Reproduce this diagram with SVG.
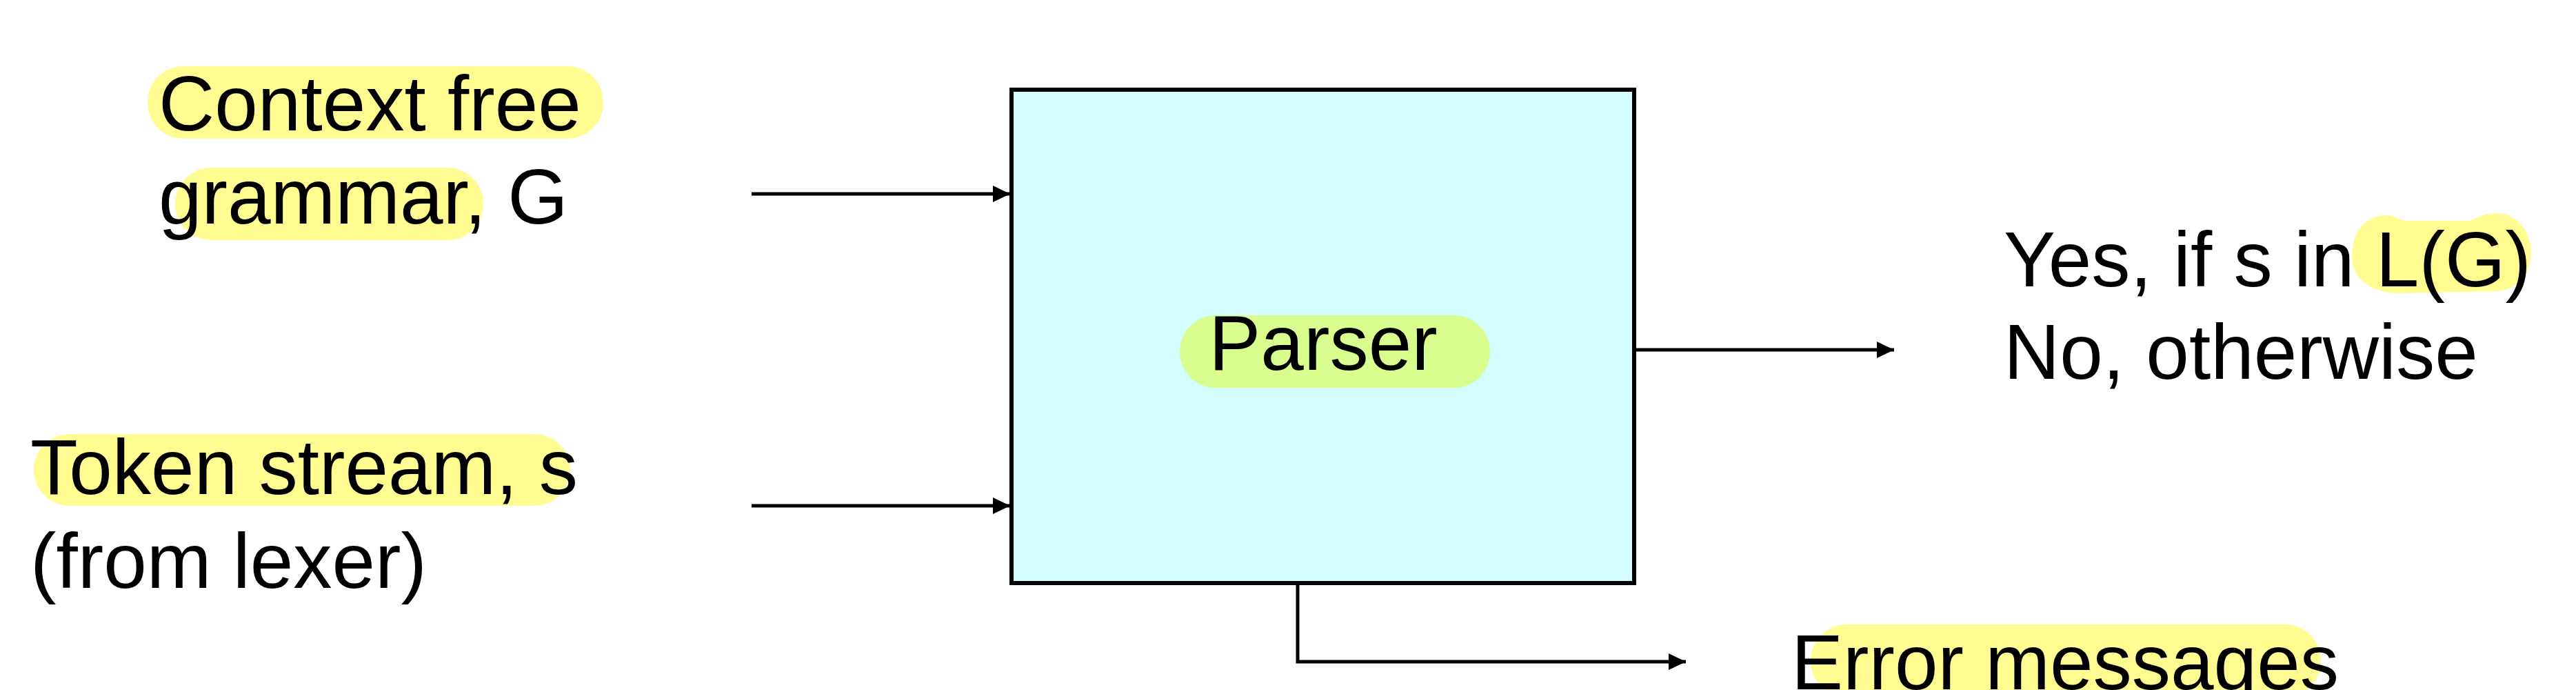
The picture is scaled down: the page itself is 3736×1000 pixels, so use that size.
<svg xmlns="http://www.w3.org/2000/svg" width="3736" height="1000" viewBox="0 0 3736 1000">
<style>
  text { font-family: "Liberation Sans", Arial, sans-serif; font-size: 112.5px; fill: #000; }
  .hl { fill: #fffd92; }
  .hlg { fill: #d8fc8e; }
  .conn { stroke: #000; stroke-width: 5; fill: none; }
  .box { fill: #d4fdfd; stroke: #000; stroke-width: 6; }
</style>
<defs>
  <marker id="arrow" markerUnits="userSpaceOnUse" markerWidth="26" markerHeight="26" refX="25" refY="12" orient="auto">
    <path d="M0,0 L25,12 L0,24 Z" fill="#000"/>
  </marker>
</defs>
<rect width="3736" height="1000" fill="#fff"/>

<g id="node-grammar">
  <rect class="hl" x="214" y="96" width="661" height="105" rx="52" ry="52"/>
  <rect class="hl" x="254" y="243" width="447" height="105" rx="52" ry="52"/>
  <text x="230" y="189">Context free</text>
  <text x="230" y="324">grammar, G</text>
</g>

<g id="node-tokens">
  <rect class="hl" x="49" y="629" width="778" height="104" rx="52" ry="52"/>
  <text x="44" y="716">Token stream, s</text>
  <text x="44" y="852">(from lexer)</text>
</g>

<g id="node-parser">
  <rect class="box" x="1467" y="130" width="903" height="715"/>
  <rect class="hlg" x="1711" y="457" width="450" height="105" rx="52" ry="52"/>
  <text x="1919" y="536" text-anchor="middle">Parser</text>
</g>

<g id="node-output">
  <path class="hl" d="M3411,372 C3411,330 3435,312 3462,312 C3475,312 3482,320 3490,320 L3580,320 C3590,318 3600,309 3620,309 C3650,309 3671,335 3671,365 C3671,400 3645,422 3620,422 L3480,425 C3440,425 3411,405 3411,372 Z"/>
  <text x="2906" y="415">Yes, if s in L(G)</text>
  <text x="2906" y="549">No, otherwise</text>
</g>

<g id="node-errors">
  <rect class="hl" x="2626" y="905" width="740" height="105" rx="52" ry="52"/>
  <text x="2598" y="999">Error messages</text>
</g>

<g id="connectors">
  <line class="conn" x1="1090" y1="281" x2="1465" y2="281" marker-end="url(#arrow)"/>
  <line class="conn" x1="1090" y1="733" x2="1465" y2="733" marker-end="url(#arrow)"/>
  <line class="conn" x1="2373" y1="507" x2="2747" y2="507" marker-end="url(#arrow)"/>
  <polyline class="conn" stroke-width="4.5" points="1882,848 1882,959 2445,959" marker-end="url(#arrow)"/>
</g>
</svg>
